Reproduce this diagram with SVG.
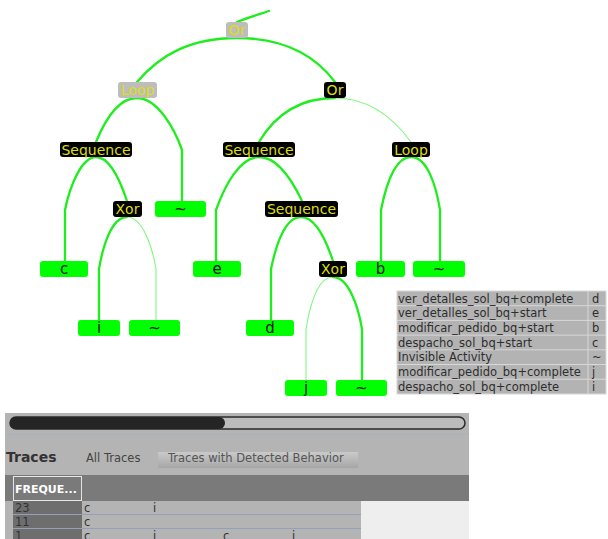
<svg xmlns="http://www.w3.org/2000/svg" width="608" height="539" viewBox="0 0 608 539">
<defs>
<style>
.thick{fill:none;stroke:#1eee1e;stroke-width:2.3;stroke-linecap:round}
.thin{fill:none;stroke:#80f780;stroke-width:1.1}
.op{fill:#000;rx:3}
.opg{fill:#bdbdbd;rx:3}
.opt{font-family:"DejaVu Sans",sans-serif;font-size:14px;fill:#dede10;text-anchor:middle}
.leaf{fill:#00ff00;rx:3}
.lt{font-family:"DejaVu Sans",sans-serif;font-size:15px;fill:#111;text-anchor:middle}
.lg{font-family:"DejaVu Sans",sans-serif;font-size:11.5px;fill:#2e2e2e}
.bt{font-family:"DejaVu Sans",sans-serif;font-size:11.5px;fill:#333}
</style>
<linearGradient id="btn" x1="0" y1="0" x2="0" y2="1">
<stop offset="0" stop-color="#cacaca"/><stop offset="1" stop-color="#a6a6a6"/>
</linearGradient>
</defs>
<rect width="608" height="539" fill="#fff"/>
<g id="connectors">
<path class="thick" d="M269,11 C257,15 247,18 237,22"/>
<path class="thick" d="M237,38 C190,38 160,55 137,82"/>
<path class="thick" d="M237,38 C285,38 315,55 335,82"/>
<path class="thick" d="M335,98 C300,98 275,115 259,142"/>
<path class="thin" d="M335,98 C370,98 395,120 411,142"/>
<path class="thick" d="M137,98 C118,98 105,120 96,142"/>
<path class="thick" d="M137,98 C158,98 175,130 182,150 L182,201"/>
<path class="thick" d="M96,157 C82,157 70,185 65,210 L65,261"/>
<path class="thick" d="M96,157 C110,157 120,180 127,201"/>
<path class="thick" d="M127,217 C112,217 103,245 99,269 L99,320"/>
<path class="thin" d="M127,217 C142,217 152,245 156,269 L156,320"/>
<path class="thick" d="M259,157 C240,157 225,185 216,210 L216,261"/>
<path class="thick" d="M259,157 C278,157 292,180 302,201"/>
<path class="thick" d="M411,157 C395,157 386,185 381,210 L381,261"/>
<path class="thick" d="M411,157 C427,157 436,185 440,210 L440,261"/>
<path class="thick" d="M301,217 C285,217 276,245 271,269 L271,320"/>
<path class="thick" d="M301,217 C316,217 326,240 333,261"/>
<path class="thin" d="M333,277 C318,277 310,305 306,329 L306,380"/>
<path class="thick" d="M333,277 C348,277 358,305 362,329 L362,380"/>
</g>
<g id="or_top"><rect class="opg" x="226" y="22" width="22" height="16"/><text class="opt" x="237" y="35">Or</text></g>
<g id="loop_left"><rect class="opg" x="118" y="82" width="39" height="16"/><text class="opt" x="137.5" y="95">Loop</text></g>
<g id="or_right"><rect class="op" x="324" y="82" width="22" height="16"/><text class="opt" x="335" y="95">Or</text></g>
<g id="seq_left"><rect class="op" x="60" y="142" width="72" height="15"/><text class="opt" x="96" y="154.5">Sequence</text></g>
<g id="seq_mid"><rect class="op" x="223" y="142" width="72" height="15"/><text class="opt" x="259" y="154.5">Sequence</text></g>
<g id="loop_right"><rect class="op" x="392" y="142" width="38" height="15"/><text class="opt" x="411" y="154.5">Loop</text></g>
<g id="xor_left"><rect class="op" x="113" y="201" width="29" height="16"/><text class="opt" x="127.5" y="214">Xor</text></g>
<g id="tau_1"><rect class="leaf" x="155" y="201" width="51" height="16"/><text class="lt" x="180.5" y="214">~</text></g>
<g id="seq_low"><rect class="op" x="265" y="201" width="73" height="16"/><text class="opt" x="301.5" y="214">Sequence</text></g>
<g id="leaf_c"><rect class="leaf" x="40" y="261" width="48" height="16"/><text class="lt" x="64" y="274">c</text></g>
<g id="leaf_e"><rect class="leaf" x="193" y="261" width="48" height="16"/><text class="lt" x="217" y="274">e</text></g>
<g id="xor_right"><rect class="op" x="319" y="261" width="28" height="16"/><text class="opt" x="333" y="274">Xor</text></g>
<g id="leaf_b"><rect class="leaf" x="356" y="261" width="49" height="16"/><text class="lt" x="380.5" y="274">b</text></g>
<g id="tau_2"><rect class="leaf" x="413" y="261" width="52" height="16"/><text class="lt" x="439" y="274">~</text></g>
<g id="leaf_i"><rect class="leaf" x="78" y="320" width="42" height="16"/><text class="lt" x="99" y="333">i</text></g>
<g id="tau_3"><rect class="leaf" x="129" y="320" width="51" height="16"/><text class="lt" x="154.5" y="333">~</text></g>
<g id="leaf_d"><rect class="leaf" x="246" y="320" width="48" height="16"/><text class="lt" x="270" y="333">d</text></g>
<g id="leaf_j"><rect class="leaf" x="285" y="380" width="42" height="16"/><text class="lt" x="306" y="393">j</text></g>
<g id="tau_4"><rect class="leaf" x="336" y="380" width="51" height="16"/><text class="lt" x="361.5" y="393">~</text></g>
<g id="legend">
<rect x="397" y="291" width="209" height="103" fill="#b3b3b3" stroke="#d8d8d8"/>
<g stroke="#d8d8d8" stroke-width="1">
<line x1="397" y1="305.7" x2="606" y2="305.7"/>
<line x1="397" y1="320.4" x2="606" y2="320.4"/>
<line x1="397" y1="335.1" x2="606" y2="335.1"/>
<line x1="397" y1="349.8" x2="606" y2="349.8"/>
<line x1="397" y1="364.5" x2="606" y2="364.5"/>
<line x1="397" y1="379.2" x2="606" y2="379.2"/>
<line x1="588" y1="291" x2="588" y2="394"/>
</g>
<text class="lg" x="398" y="302.5">ver_detalles_sol_bq+complete</text><text class="lg" x="592" y="302.5">d</text>
<text class="lg" x="398" y="317.2">ver_detalles_sol_bq+start</text><text class="lg" x="592" y="317.2">e</text>
<text class="lg" x="398" y="331.9">modificar_pedido_bq+start</text><text class="lg" x="592" y="331.9">b</text>
<text class="lg" x="398" y="346.6">despacho_sol_bq+start</text><text class="lg" x="592" y="346.6">c</text>
<text class="lg" x="398" y="361.3">Invisible Activity</text><text class="lg" x="592" y="361.3">~</text>
<text class="lg" x="398" y="376">modificar_pedido_bq+complete</text><text class="lg" x="592" y="376">j</text>
<text class="lg" x="398" y="390.7">despacho_sol_bq+complete</text><text class="lg" x="592" y="390.7">i</text>
</g>
<g id="scrollbar">
<rect x="5" y="413" width="464" height="21" fill="#b4b4b4"/>
<rect x="10" y="417" width="455" height="12" rx="6" fill="#bcbcbc" stroke="#2a2a2a" stroke-width="1.5"/>
<rect x="10" y="417" width="215" height="12" rx="6" fill="#252525"/>
<line x1="5" y1="434.5" x2="469" y2="434.5" stroke="#a3b3c6"/>
</g>
<g id="traces_panel">
<rect x="5" y="435" width="464" height="104" fill="#b4b4b4"/>
<text x="6" y="462" font-family="DejaVu Sans,sans-serif" font-size="14" font-weight="bold" fill="#333">Traces</text>
<text class="bt" x="86" y="462" style="fill:#444">All Traces</text>
<rect x="158" y="452" width="200" height="16" fill="url(#btn)"/>
<text class="bt" x="168" y="462" style="fill:#555">Traces with Detected Behavior</text>
<rect x="5" y="475" width="464" height="26" fill="#7a7a7a"/>
<rect x="13.5" y="476.5" width="68" height="24" fill="#7a7a7a" stroke="#e6e6e6"/>
<text x="15" y="493" font-family="DejaVu Sans,sans-serif" font-size="11" font-weight="bold" fill="#fff">FREQUE...</text>
<rect x="13" y="501" width="69" height="38" fill="#6e6e6e"/>
<rect x="82" y="501" width="279" height="38" fill="#b4b4b4"/>
<rect x="361" y="501" width="108" height="38" fill="#eeeeee"/>
<line x1="13" y1="514.5" x2="361" y2="514.5" stroke="#8fa2b8"/>
<line x1="13" y1="528.5" x2="361" y2="528.5" stroke="#8fa2b8"/>
<text class="bt" x="15" y="512">23</text><text class="bt" x="84" y="512">c</text><text class="bt" x="153" y="512">i</text>
<text class="bt" x="15" y="526">11</text><text class="bt" x="84" y="526">c</text>
<text class="bt" x="15" y="540">1</text><text class="bt" x="84" y="540">c</text><text class="bt" x="153" y="540">i</text><text class="bt" x="223" y="540">c</text><text class="bt" x="292" y="540">i</text>
</g>
</svg>
